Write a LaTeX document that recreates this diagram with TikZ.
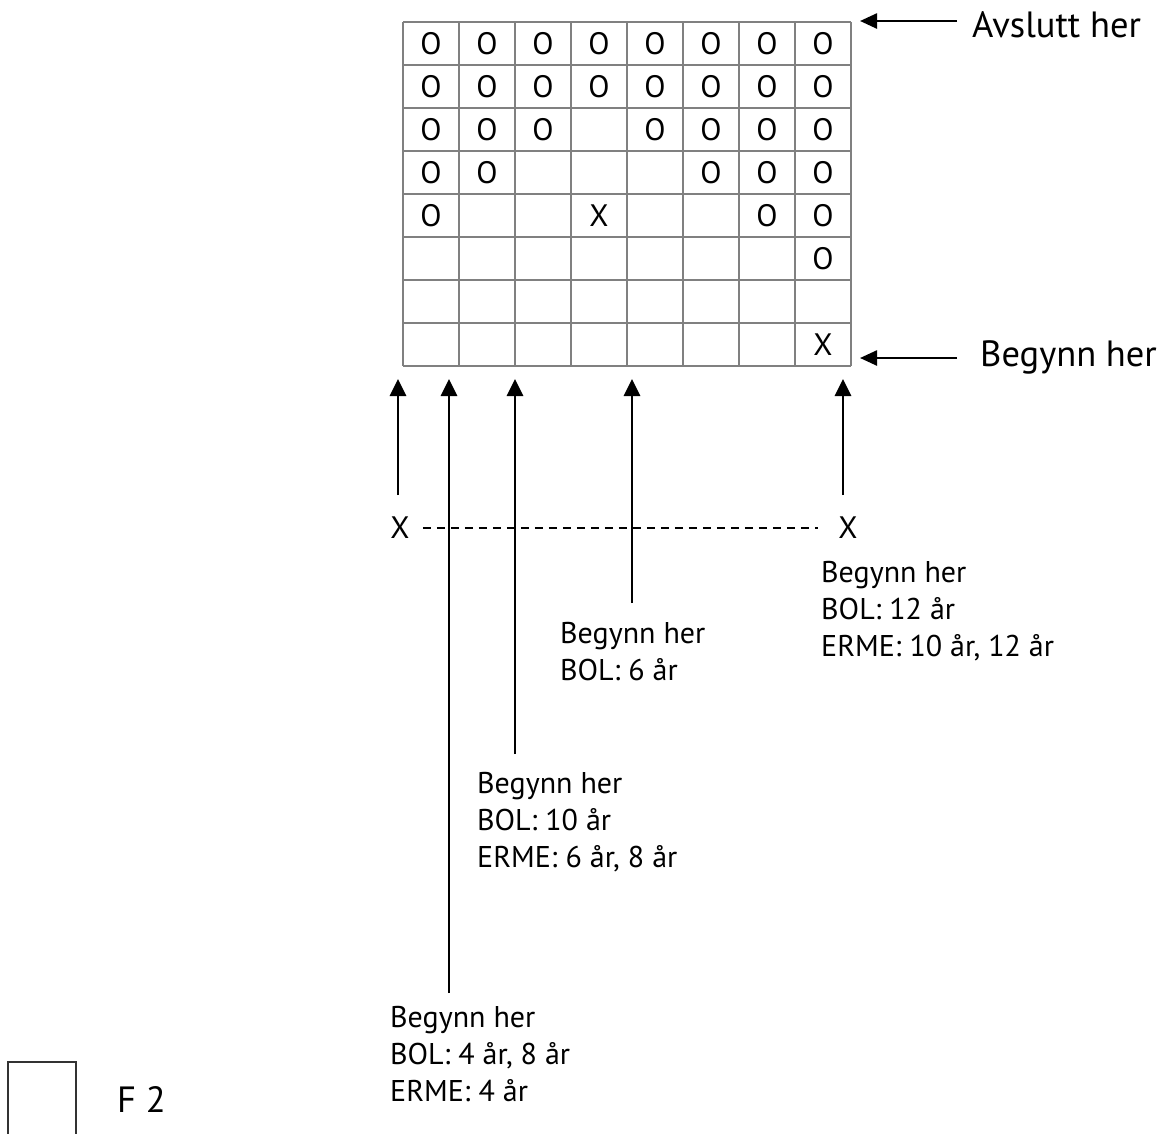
\documentclass[tikz,border=0pt]{standalone}
\usepackage{fontspec}
\setmainfont{PT Sans}
\usetikzlibrary{arrows.meta}
\begin{document}
\begin{tikzpicture}[x=1pt,y=-1pt,
  gridline/.style={draw=black!50, line width=1.4pt},
  cellmark/.style={font=\fontsize{31}{31}\selectfont, inner sep=0pt},
  uparrow/.style={-{Triangle[length=17pt,width=16pt]}, line width=2.8pt},
  sidearrow/.style={-{Triangle[length=17pt,width=15pt]}, line width=2.5pt},
  lbl/.style={font=\fontsize{30}{37}\selectfont, align=left, anchor=base west, inner sep=0pt},
  biglbl/.style={font=\fontsize{36.5}{40}\selectfont, anchor=base west, inner sep=0pt},
  dashline/.style={line width=2pt, dash pattern=on 8pt off 6pt}]
\useasboundingbox (0,0) rectangle (1164,1133);
\clip (0,0) rectangle (1164,1133);
% grid
\foreach \i in {0,...,8} \draw[gridline] (403+56*\i,22) -- (403+56*\i,366);
\foreach \j in {0,...,8} \draw[gridline] (403,22+43*\j) -- (851,22+43*\j);
% cell marks
\foreach \c/\r/\t in {1/1/O,2/1/O,3/1/O,4/1/O,5/1/O,6/1/O,7/1/O,8/1/O,
  1/2/O,2/2/O,3/2/O,4/2/O,5/2/O,6/2/O,7/2/O,8/2/O,
  1/3/O,2/3/O,3/3/O,5/3/O,6/3/O,7/3/O,8/3/O,
  1/4/O,2/4/O,6/4/O,7/4/O,8/4/O,
  1/5/O,4/5/X,7/5/O,8/5/O,
  8/6/O,
  8/8/X}
  \node[cellmark] (c\c\r) at (403+56*\c-28,22+43*\r-21.5) {\t};
% side arrows and labels
\node[biglbl] (avs) at (972,37) {Avslutt her};
\node[biglbl] (beg) at (980,366) {Begynn her};
\coordinate (sa1) at (957,21); \coordinate (sb1) at (860,21);
\coordinate (sa2) at (957,358); \coordinate (sb2) at (860,358);
\draw[sidearrow] (sa1) -- (sb1);
\draw[sidearrow] (sa2) -- (sb2);
% X marks and dashed line
\node[cellmark] (xl) at (400,528) {X};
\node[cellmark] (xr) at (848,528) {X};
\draw[dashline] ([xshift=13pt]xl.east) -- ([xshift=-20pt]xr.west);
% up arrows
\coordinate (t1) at (398,379); \coordinate (b1) at (398,495);
\coordinate (t2) at (449,379); \coordinate (b2) at (449,993);
\coordinate (t3) at (515,379); \coordinate (b3) at (515,754);
\coordinate (t4) at (632,379); \coordinate (b4) at (632,603);
\coordinate (t5) at (843,379); \coordinate (b5) at (843,495);
\foreach \k in {1,...,5} \draw[uparrow] (b\k) -- (t\k);
% start labels (anchor = baseline of last line)
\node[lbl] (l4) at (560,680) {Begynn her\\BOL: 6 år};
\node[lbl] (l3) at (477,867) {Begynn her\\BOL: 10 år\\ERME: 6 år, 8 år};
\node[lbl] (l2) at (390,1101) {Begynn her\\BOL: 4 år, 8 år\\ERME: 4 år};
\node[lbl] (l5) at (821,656) {Begynn her\\BOL: 12 år\\ERME: 10 år, 12 år};
% legend
\draw[draw=black!80, line width=2.5pt] (8,1062) rectangle (76,1145);
\node[biglbl] (f2) at (117,1112) {F 2};
\end{tikzpicture}
\end{document}
